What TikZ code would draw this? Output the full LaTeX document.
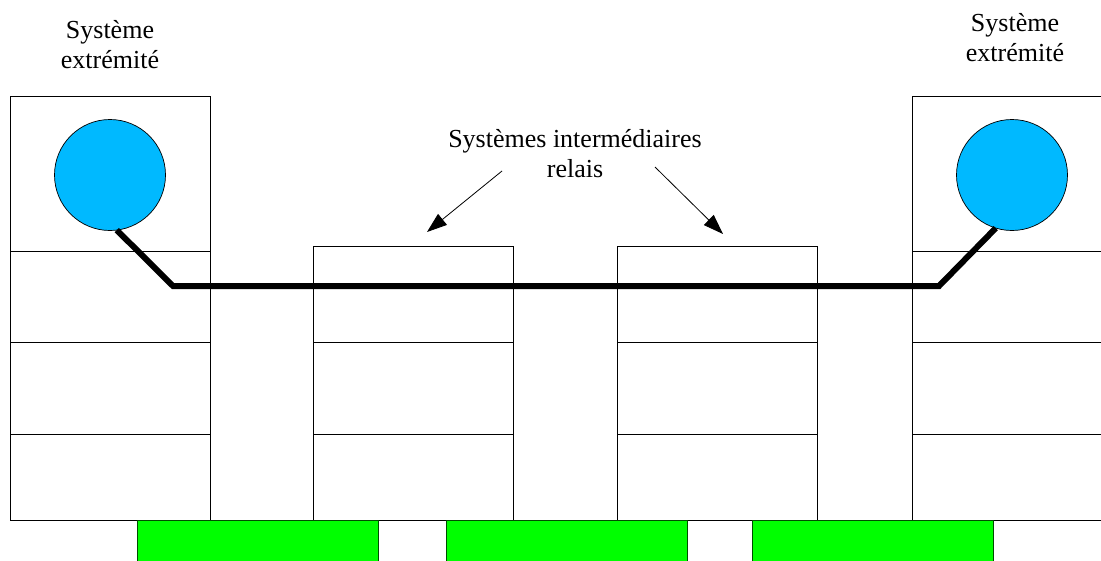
\documentclass[tikz,border=0pt]{standalone}
\usepackage{fontspec}
\setmainfont{Liberation Serif}
\usetikzlibrary{arrows.meta}
\definecolor{hostblue}{RGB}{0,185,255}
\definecolor{linkgreen}{RGB}{0,255,0}
\begin{document}
\begin{tikzpicture}[x=1pt,y=-1pt,
  layer/.style={draw=black, line width=0.8pt, fill=white, inner sep=0pt, outer sep=0pt,
                anchor=north west, minimum width=200pt},
  host/.style={circle, draw=black, line width=0.7pt, fill=hostblue, minimum size=111pt,
               inner sep=0pt, outer sep=0pt},
  medium/.style={rectangle, draw=black!70!green, line width=0.8pt, fill=linkgreen,
                 inner sep=0pt, outer sep=0pt, anchor=north west,
                 minimum width=241pt, minimum height=42pt},
  caption/.style={font=\fontsize{26}{30}\selectfont, align=center, inner sep=0pt, anchor=north},
  pointer/.style={line width=0.8pt, -{Triangle[length=20pt,width=14pt]}},
  conn/.style={line width=6pt, line join=miter}]
\useasboundingbox (0,0) rectangle (1101,560);

% left end system
\node[layer, minimum height=155pt] (L1) at (10,96) {};
\node[layer, minimum height=91pt]  (L2) at (10,251) {};
\node[layer, minimum height=92pt]  (L3) at (10,342) {};
\node[layer, minimum height=86pt]  (L4) at (10,434) {};

% first relay
\node[layer, minimum height=96pt] (A1) at (313,246) {};
\node[layer, minimum height=92pt] (A2) at (313,342) {};
\node[layer, minimum height=86pt] (A3) at (313,434) {};

% second relay
\node[layer, minimum height=96pt] (B1) at (617,246) {};
\node[layer, minimum height=92pt] (B2) at (617,342) {};
\node[layer, minimum height=86pt] (B3) at (617,434) {};

% right end system
\node[layer, minimum height=155pt] (R1) at (912,96) {};
\node[layer, minimum height=91pt]  (R2) at (912,251) {};
\node[layer, minimum height=92pt]  (R3) at (912,342) {};
\node[layer, minimum height=86pt]  (R4) at (912,434) {};

% physical media
\node[medium] (M1) at (137,520) {};
\node[medium] (M2) at (446,520) {};
\node[medium] (M3) at (752,520) {};

% end hosts
\node[host] (hl) at (110,175) {};
\node[host] (hr) at (1012,175) {};

% end-to-end path
\coordinate (jl) at (173,286);
\coordinate (jr) at (939,286);
\draw[conn] (hl.-83) -- (jl) -- (jr) -- (hr.-107);

% captions
\node[caption] (tl) at (110,20) {Système\\extrémité};
\node[caption] (tr) at (1015,13) {Système\\extrémité};
\node[caption] (tm) at (575,129) {Systèmes intermédiaires\\relais};

% pointers to the relays
\coordinate (p1s) at (502,171);
\coordinate (p1e) at (427,232);
\coordinate (p2s) at (655,167);
\coordinate (p2e) at (723,234);
\draw[pointer] (p1s) -- (p1e);
\draw[pointer] (p2s) -- (p2e);
\end{tikzpicture}
\end{document}
